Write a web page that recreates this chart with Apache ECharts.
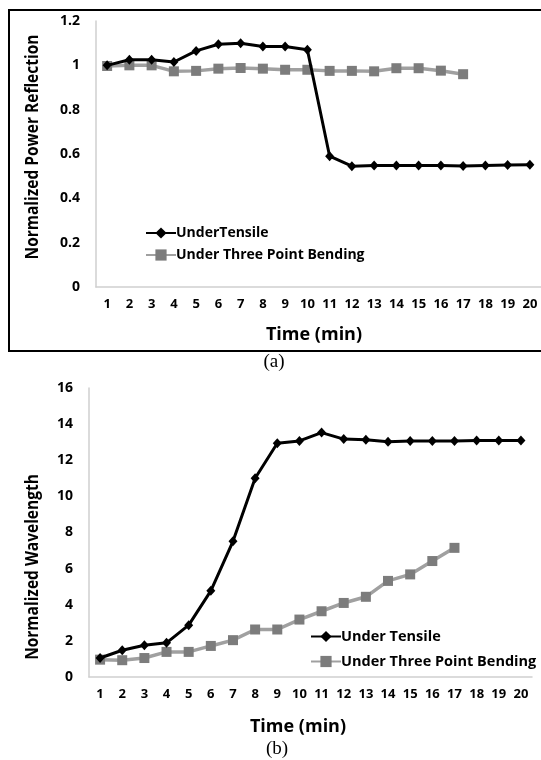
<!DOCTYPE html>
<html>
<head>
<meta charset="utf-8">
<script src="https://cdn.jsdelivr.net/npm/echarts@6/dist/echarts.min.js"></script>
<style>
  html, body { margin: 0; padding: 0; background: #fff; }
  #chart { width: 541px; height: 760px; }
</style>
</head>
<body>
<div id="chart"></div>
<script>
// Time steps (minutes), shared by both panels
const timeMin = ['1','2','3','4','5','6','7','8','9','10','11','12','13','14','15','16','17','18','19','20'];

// Panel (a): normalized power reflection
const reflTensile = [1.0, 1.025, 1.025, 1.015, 1.065, 1.095, 1.1, 1.085, 1.085, 1.07,
                     0.59, 0.545, 0.548, 0.548, 0.548, 0.548, 0.546, 0.548, 0.55, 0.552];
const reflBending = [0.997, 1.0, 1.0, 0.973, 0.975, 0.985, 0.988, 0.985, 0.98, 0.98,
                     0.975, 0.975, 0.973, 0.987, 0.987, 0.976, 0.96];

// Panel (b): normalized wavelength
const waveTensile = [1.05, 1.48, 1.76, 1.89, 2.87, 4.77, 7.51, 11.0, 12.94, 13.07,
                     13.53, 13.17, 13.13, 13.02, 13.06, 13.06, 13.06, 13.1, 13.1, 13.1];
const waveBending = [0.96, 0.93, 1.05, 1.39, 1.39, 1.72, 2.04, 2.63, 2.63, 3.18,
                     3.64, 4.1, 4.44, 5.32, 5.68, 6.42, 7.15];

const yTicksA = ['0', '0.2', '0.4', '0.6', '0.8', '1', '1.2'];

const FONT = '"Open Sans", "Liberation Sans", sans-serif';
const AXIS_GRAY = '#cfcfcf';

const chart = echarts.init(document.getElementById('chart'), null, { renderer: 'canvas' });

function catAxis(gridIndex) {
  return {
    type: 'category',
    gridIndex: gridIndex,
    data: timeMin,
    boundaryGap: true,
    axisLine: { lineStyle: { color: AXIS_GRAY, width: 1.5 } },
    axisTick: { show: false },
    axisLabel: { interval: 0, margin: 11, color: '#000', fontFamily: FONT, fontWeight: 'bold', fontSize: 13 }
  };
}

function valAxis(gridIndex, min, max, interval, formatter) {
  return {
    type: 'value',
    gridIndex: gridIndex,
    min: min, max: max, interval: interval,
    axisLine: { show: true, lineStyle: { color: AXIS_GRAY, width: 1.5 } },
    axisTick: { show: false },
    splitLine: { show: false },
    axisLabel: { margin: 16, color: '#000', fontFamily: FONT, fontWeight: 'bold', fontSize: 14, formatter: formatter }
  };
}

function tensileSeries(name, data, idx) {
  return {
    name: name, type: 'line', data: data,
    xAxisIndex: idx, yAxisIndex: idx,
    symbol: 'diamond', symbolSize: [9, 10], showSymbol: true,
    lineStyle: { color: '#000', width: 3 },
    itemStyle: { color: '#000' },
    z: 3
  };
}

function bendingSeries(name, data, idx) {
  return {
    name: name, type: 'line', data: data,
    xAxisIndex: idx, yAxisIndex: idx,
    symbol: 'rect', symbolSize: 10, showSymbol: true,
    lineStyle: { color: '#a0a0a0', width: 3.5 },
    itemStyle: { color: '#7c7c7c' },
    z: 2
  };
}

function titleText(x, y, text, size, rotate, font, scaleX) {
  return {
    type: 'text', x: x, y: y, rotation: rotate ? Math.PI / 2 : 0,
    scaleX: scaleX || 1,
    style: {
      text: text, fill: '#000', align: 'center', verticalAlign: 'middle',
      font: font || ('bold ' + size + 'px ' + FONT)
    }
  };
}

const SERIF = '19px "Liberation Serif", "Times New Roman", serif';

const option = {
  backgroundColor: '#fff',
  animation: false,
  grid: [
    { left: 96, top: 21, width: 450, height: 266 },
    { left: 89, top: 388, width: 443, height: 289 }
  ],
  xAxis: [catAxis(0), catAxis(1)],
  yAxis: [
    valAxis(0, 0, 1.2, 0.2, function (v) { return yTicksA[Math.round(v / 0.2)]; }),
    valAxis(1, 0, 16, 2)
  ],
  legend: [
    {
      orient: 'vertical', left: 140, top: 221,
      itemWidth: 30, itemHeight: 14, itemGap: 8,
      textStyle: { color: '#000', fontFamily: FONT, fontWeight: 'bold', fontSize: 14, padding: [0, 0, 0, -5] },
      data: ['UnderTensile', 'Under Three Point Bending']
    },
    {
      orient: 'vertical', left: 305, top: 624,
      itemWidth: 30, itemHeight: 14, itemGap: 10,
      textStyle: { color: '#000', fontFamily: FONT, fontWeight: 'bold', fontSize: 14.5, padding: [0, 0, 0, -5] },
      data: ['Under Tensile', 'Under Three Point Bending ']
    }
  ],
  series: [
    tensileSeries('UnderTensile', reflTensile, 0),
    bendingSeries('Under Three Point Bending', reflBending, 0),
    tensileSeries('Under Tensile', waveTensile, 1),
    bendingSeries('Under Three Point Bending ', waveBending, 1)
  ],
  graphic: [
    {
      type: 'rect', shape: { x: 9, y: 10, width: 545, height: 341 },
      style: { fill: 'none', stroke: '#000', lineWidth: 2 }, silent: true
    },
    titleText(33, 147, 'Normalized Power Reflection', 18, true, null, 0.86),
    titleText(314, 335, 'Time (min)', 18, false),
    titleText(274, 362, '(a)', 0, false, SERIF),
    titleText(33, 567, 'Normalized Wavelength', 18, true, null, 0.86),
    titleText(298, 727, 'Time (min)', 18, false),
    titleText(277, 749, '(b)', 0, false, SERIF)
  ]
};

chart.setOption(option);
</script>
</body>
</html>
